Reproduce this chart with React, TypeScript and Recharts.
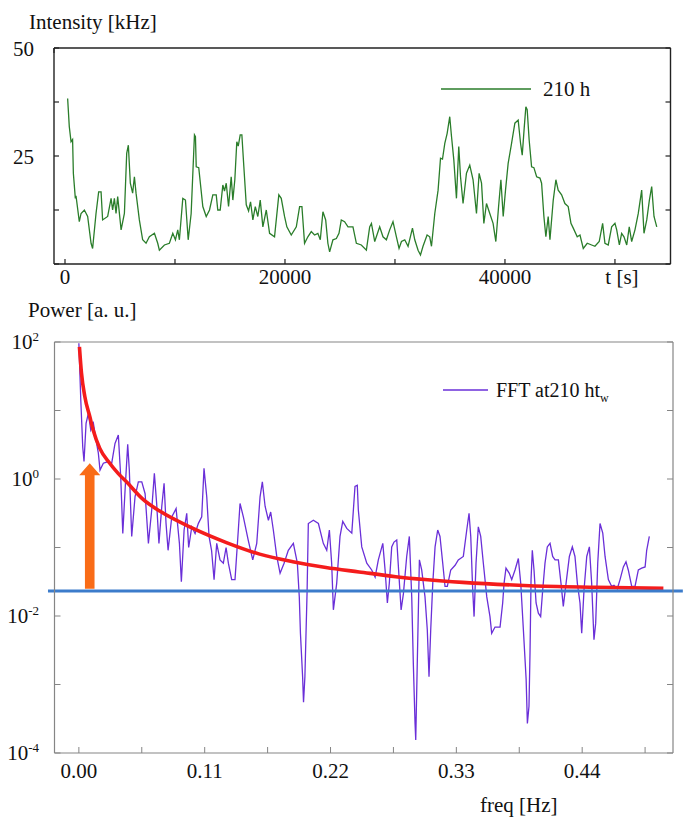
import React from 'react';
import { LineChart, Line, XAxis, YAxis, Legend, ReferenceLine } from 'recharts';

const FONT = "'Liberation Serif', 'Times New Roman', serif";

// ---------- Top chart: intensity trace ----------
const intensityTime = [
  240, 390, 550, 690, 760, 940, 1000, 1300, 1460, 1760, 2060, 2370, 2510, 2820, 3060, 3280, 3420, 3880, 4190, 4330,
  4490, 4640, 4790, 5100, 5400, 5610, 5760, 5940, 6150, 6310, 6460, 6760, 7060, 7370, 7670, 8130, 8430, 8580, 9040, 9490,
  9800, 10040, 10250, 10400, 10710, 10950, 11200, 11470, 11770, 11860, 11930, 12160, 12530, 12840, 13140, 13440, 13750, 13890, 14110, 14350,
  14500, 14660, 14870, 15110, 15260, 15440, 15620, 15750, 15930, 16080, 16260, 16480, 16690, 16870, 17080, 17300, 17530, 17750, 17990, 18300,
  18600, 19050, 19440, 19660, 19960, 20170, 20570, 21030, 21330, 21540, 21780, 22080, 22390, 22690, 22990, 23210, 23450, 23700, 23900, 24060,
  24360, 24670, 24910, 25120, 25420, 25730, 26180, 26490, 26940, 27400, 27700, 27860, 28160, 28610, 28910, 29220, 29520, 29820, 30130, 30370,
  30590, 30890, 31190, 31590, 31800, 32100, 32320, 32550, 32920, 33160, 33320, 33620, 33920, 34140, 34320, 34530, 34740, 34980, 35140, 35350,
  35590, 35800, 35960, 36190, 36500, 36800, 37100, 37410, 37650, 37870, 38080, 38320, 38620, 38920, 39170, 39420, 39630, 39840, 40050, 40290,
  40600, 40900, 41200, 41420, 41570, 41750, 41900, 42020, 42200, 42420, 42630, 42880, 43180, 43330, 43540, 43720, 43930, 44090, 44390, 44630,
  44840, 45150, 45450, 45750, 46000, 46210, 46570, 46820, 47120, 47480, 47880, 48180, 48570, 48880, 49090, 49390, 49700, 50000, 50160, 50400,
  50610, 50820, 51070, 51300, 51520, 51820, 52120, 52430, 52640, 52890, 53130, 53340, 53550, 53800,
];
const intensityKHz = [
  38.3, 31.8, 28.3, 28.8, 21, 15.2, 15.8, 9.8, 11.7, 12.5, 11, 4.8, 3.6, 11.7, 16.7, 16.7, 10.2, 11, 15.2, 12.5,
  15.2, 11.7, 15.6, 7.9, 11.7, 25.6, 27.5, 18.7, 16.4, 20.2, 16.4, 10.2, 5.6, 4.8, 6.3, 7.1, 4.8, 3.2, 4.4, 4.8,
  7.1, 5.6, 7.9, 5.6, 15.2, 14.8, 5.6, 11.7, 29.9, 29.5, 22.5, 22.3, 13.3, 11, 12.5, 16, 16, 12.5, 12.5, 18.3,
  16.9, 18.7, 13.3, 20.2, 14.8, 19.5, 28.3, 27.3, 29.9, 29.9, 22.5, 13.7, 12.3, 14.4, 10.2, 13.3, 11, 14.8, 8.6, 12.5,
  7.1, 6.3, 16, 15.2, 11, 8.6, 6.7, 8.6, 13.3, 13.3, 4.8, 6.3, 7.5, 6.7, 7.1, 5.6, 12.1, 10.2, 4.8, 2.8,
  5.6, 5.9, 7.1, 10.2, 9.8, 8.6, 8.6, 4.8, 4.4, 3.2, 8.6, 9.4, 5.2, 8.6, 6.3, 5.6, 7.9, 9.8, 6.3, 3.6,
  5.2, 5.6, 4.1, 8.3, 5.6, 3.2, 2.1, 4.1, 6.7, 6.3, 4.1, 11.7, 17.1, 24.5, 24.3, 27.9, 30.2, 34.1, 29.5, 24.1,
  15.2, 27.2, 20.2, 14, 21, 22.9, 19.5, 11.7, 21, 18.7, 9.4, 14, 11.7, 9.4, 5.2, 13.3, 19.5, 11, 17.1, 23.3,
  27.9, 32.6, 33.3, 27.9, 25.2, 31.5, 36.4, 35.7, 28.7, 22.5, 22.3, 20.2, 19.9, 18.7, 11, 6.3, 11, 5.6, 14.8, 19.5,
  17.1, 16, 14, 13.3, 9.4, 8.3, 6.3, 6.7, 3.6, 4.8, 4.4, 4.1, 5.2, 9.4, 4.8, 4.4, 8.6, 9.4, 7.9, 4.4,
  7.1, 6.3, 4.4, 8.6, 5.2, 7.9, 11.7, 17.1, 7.1, 10.2, 14.8, 17.9, 11, 8.6,
];
const timeTicks = [0, 10000, 20000, 30000, 40000, 50000];
const timeTickLabels = ['0', '', '20000', '', '40000', 't [s]'];
const intensityTicks = [0, 12.5, 25, 37.5, 50];
const intensityTickLabels = ['', '', '25', '', '50'];

// ---------- Bottom chart: FFT ----------
const fftFreq = [
  0.0, 0.0017, 0.0034, 0.0045, 0.0063, 0.0083, 0.0104, 0.0127, 0.015, 0.017, 0.0185, 0.0214, 0.0258, 0.0287, 0.0316, 0.0345, 0.0366, 0.0384, 0.0404, 0.0427,
  0.0441, 0.0462, 0.0491, 0.052, 0.055, 0.0579, 0.0608, 0.0637, 0.066, 0.068, 0.07, 0.0725, 0.0745, 0.0762, 0.078, 0.0812, 0.085, 0.0879, 0.0896, 0.092,
  0.0943, 0.096, 0.0987, 0.1016, 0.1045, 0.1074, 0.1094, 0.1118, 0.1138, 0.116, 0.1182, 0.1205, 0.1234, 0.1263, 0.1287, 0.1307, 0.1336, 0.1365, 0.1394, 0.1409,
  0.1438, 0.148, 0.152, 0.1555, 0.1584, 0.1604, 0.1628, 0.1657, 0.1677, 0.17, 0.173, 0.1759, 0.1794, 0.1831, 0.1875, 0.191, 0.1927, 0.1937, 0.1956, 0.1964,
  0.1976, 0.1995, 0.2006, 0.205, 0.2094, 0.2137, 0.2167, 0.219, 0.221, 0.2225, 0.2254, 0.2283, 0.2307, 0.2342, 0.2386, 0.2414, 0.2434, 0.2443, 0.2473, 0.2517,
  0.256, 0.259, 0.2618, 0.2657, 0.2677, 0.2697, 0.2714, 0.2735, 0.2755, 0.2779, 0.2799, 0.2817, 0.2837, 0.2866, 0.2889, 0.291, 0.2924, 0.2939, 0.2945, 0.2959,
  0.2977, 0.2997, 0.3026, 0.3046, 0.3061, 0.3076, 0.3094, 0.3114, 0.3137, 0.3157, 0.3181, 0.3201, 0.3221, 0.3251, 0.3289, 0.3317, 0.3361, 0.3391, 0.3411, 0.3426,
  0.3443, 0.3455, 0.3472, 0.3492, 0.3513, 0.3536, 0.3566, 0.3594, 0.3609, 0.3638, 0.3682, 0.3705, 0.3717, 0.3734, 0.3763, 0.3784, 0.3813, 0.3842, 0.3863, 0.3886,
  0.391, 0.3921, 0.3935, 0.3944, 0.3953, 0.3964, 0.3979, 0.3997, 0.4017, 0.4037, 0.4055, 0.4075, 0.4095, 0.4119, 0.4142, 0.4163, 0.4192, 0.4215, 0.4235, 0.4259,
  0.4288, 0.4314, 0.4337, 0.4358, 0.4381, 0.4396, 0.4416, 0.444, 0.4463, 0.4483, 0.4503, 0.4518, 0.4536, 0.4556, 0.458, 0.46, 0.4629, 0.4658, 0.4678, 0.4707,
  0.4731, 0.476, 0.4783, 0.4803, 0.4833, 0.4862, 0.4891, 0.492, 0.495, 0.4964, 0.4987,
];
const fftPower = [
  96, 14, 2.9, 1.8, 6.5, 9.1, 5.2, 6.5, 3.7, 2.4, 1.35, 1.7, 1.8, 1.7, 3.3, 4.4, 1.08, 0.16, 0.69, 3.2,
  1.35, 0.145, 0.55, 0.91, 0.91, 0.61, 0.115, 0.355, 1.21, 0.44, 0.115, 0.4, 0.865, 0.225, 0.091, 0.28, 0.37, 0.115, 0.0316, 0.18,
  0.316, 0.1, 0.2, 0.16, 0.225, 0.28, 1.43, 0.55, 0.145, 0.091, 0.034, 0.115, 0.066, 0.059, 0.1, 0.059, 0.034, 0.034, 0.18, 0.44,
  0.28, 0.129, 0.066, 0.115, 0.55, 0.91, 0.4, 0.25, 0.33, 0.18, 0.074, 0.042, 0.059, 0.091, 0.115, 0.059, 0.019, 0.0056, 0.0013, 0.00055,
  0.0013, 0.022, 0.224, 0.25, 0.224, 0.115, 0.091, 0.18, 0.059, 0.0123, 0.03, 0.145, 0.24, 0.19, 0.162, 0.78, 0.81, 0.355, 0.102, 0.059,
  0.047, 0.037, 0.066, 0.115, 0.047, 0.0155, 0.03, 0.102, 0.12, 0.129, 0.037, 0.0123, 0.021, 0.074, 0.145, 0.019, 0.002, 0.00027, 0.000155, 0.0023,
  0.066, 0.047, 0.019, 0.0063, 0.0013, 0.0063, 0.03, 0.102, 0.18, 0.145, 0.059, 0.027, 0.027, 0.047, 0.055, 0.066, 0.074, 0.18, 0.316, 0.145,
  0.024, 0.0098, 0.059, 0.2, 0.145, 0.059, 0.019, 0.0098, 0.0056, 0.0069, 0.0069, 0.0155, 0.03, 0.05, 0.042, 0.034, 0.047, 0.069, 0.03, 0.0063,
  0.0012, 0.00027, 0.00048, 0.0029, 0.034, 0.091, 0.047, 0.0155, 0.011, 0.0098, 0.024, 0.059, 0.102, 0.115, 0.074, 0.066, 0.066, 0.03, 0.0138, 0.03,
  0.074, 0.102, 0.074, 0.03, 0.0155, 0.0056, 0.024, 0.074, 0.102, 0.03, 0.0045, 0.0078, 0.059, 0.224, 0.162, 0.074, 0.034, 0.027, 0.028, 0.025,
  0.034, 0.052, 0.062, 0.047, 0.027, 0.027, 0.047, 0.05, 0.052, 0.091, 0.145,
];
const fitFreq = [0.0005, 0.0023, 0.0052, 0.0096, 0.0125, 0.0183, 0.027, 0.0343, 0.0416, 0.0564, 0.0707, 0.0998, 0.129, 0.158, 0.187, 0.216, 0.245, 0.277, 0.3355, 0.394, 0.452, 0.511];
const fitPower = [85, 35, 16, 8.1, 5.2, 2.8, 1.7, 1.21, 0.91, 0.5, 0.34, 0.19, 0.118, 0.08, 0.062, 0.051, 0.044, 0.0375, 0.031, 0.0277, 0.0263, 0.0253];
const noiseFloor = 0.0232;
const arrowFreq = 0.0095;
const arrowFrom = 0.025;
const arrowTo = 1.7;
const freqTicks = [0, 0.055, 0.11, 0.165, 0.22, 0.275, 0.33, 0.385, 0.44, 0.495];
const freqTickLabels = ['0.00', '', '0.11', '', '0.22', '', '0.33', '', '0.44', ''];
const powerTicks = [0.0001, 0.001, 0.01, 0.1, 1, 10, 100];
const powerTickExponents = ['-4', '', '-2', '', '0', '', '2'];

const intensityData = intensityTime.map((t, i) => ({ t, v: intensityKHz[i] }));
const fftData = fftFreq.map((f, i) => ({ f, p: fftPower[i] }));
const fitData = fitFreq.map((f, i) => ({ f, p: fitPower[i] }));

const TEXT = '#111';
const TOP_FRAME = '#222';
const BOT_FRAME = '#858585';

const Empty = () => <g />;

const TimeTick = (props: any) => {
  const { x, y, payload } = props;
  const i = timeTicks.indexOf(payload.value);
  const label = timeTickLabels[i];
  if (!label) return <g />;
  const dx = label === 't [s]' ? 7 : 0;
  return (
    <text x={x + dx} y={y} dy="0.71em" textAnchor="middle" fontFamily={FONT} fontSize={21} fill={TEXT}>
      {label}
    </text>
  );
};

const IntensityTick = (props: any) => {
  const { x, y, payload } = props;
  const i = intensityTicks.indexOf(payload.value);
  const label = intensityTickLabels[i];
  if (!label) return <g />;
  return (
    <text x={x} y={y} dy="0.36em" textAnchor="end" fontFamily={FONT} fontSize={21} fill={TEXT}>
      {label}
    </text>
  );
};

const FreqTick = (props: any) => {
  const { x, y, payload } = props;
  const i = freqTicks.indexOf(payload.value);
  const label = freqTickLabels[i];
  if (!label) return <g />;
  return (
    <text x={x} y={y} dy="0.71em" textAnchor="middle" fontFamily={FONT} fontSize={21} fill={TEXT}>
      {label}
    </text>
  );
};

const PowerTick = (props: any) => {
  const { x, y, payload } = props;
  const i = powerTicks.indexOf(payload.value);
  const exp = powerTickExponents[i];
  if (!exp) return <g />;
  return (
    <text x={x} y={y} dy={7} textAnchor="end" fontFamily={FONT} fontSize={21} fill={TEXT}>
      10
      <tspan dy={-8} fontSize={13}>
        {exp}
      </tspan>
    </text>
  );
};

const AxisTitle = (props: any) => {
  const vb = props.viewBox || { x: props.fx || 0, y: props.fy || 0 };
  return (
    <text x={vb.x + props.ox} y={vb.y + props.oy} textAnchor="start" fontFamily={FONT} fontSize={21} fill={TEXT}>
      {props.text}
    </text>
  );
};

const ArrowShape = (props: any) => {
  const { x1, y1, y2 } = props;
  if (x1 == null || y1 == null || y2 == null) return <g />;
  const top = Math.min(y1, y2);
  const bottom = Math.max(y1, y2);
  const sw = 4.8;
  const hw = 10.5;
  const hh = 12;
  const pts = [
    [x1 - sw, bottom],
    [x1 - sw, top + hh],
    [x1 - hw, top + hh],
    [x1, top],
    [x1 + hw, top + hh],
    [x1 + sw, top + hh],
    [x1 + sw, bottom],
  ]
    .map((p) => p.join(','))
    .join(' ');
  return <polygon points={pts} fill="#f96c17" />;
};

const TopLegend = () => (
  <svg width={170} height={26} style={{ display: 'block' }}>
    <line x1={1} y1={13} x2={91} y2={13} stroke="#2a7d2a" strokeWidth={1.6} />
    <text x={103} y={13} dy="0.35em" fontFamily={FONT} fontSize={21} fill={TEXT}>
      210 h
    </text>
  </svg>
);

const BottomLegend = () => (
  <svg width={200} height={30} style={{ display: 'block' }}>
    <line x1={1} y1={13} x2={46} y2={13} stroke="#6a2fd8" strokeWidth={1.6} />
    <text x={54} y={13} dy="0.35em" fontFamily={FONT} fontSize={20} fill={TEXT}>
      FFT at210 ht
      <tspan dy={5} fontSize={12}>
        w
      </tspan>
    </text>
  </svg>
);

export default function App() {
  return (
    <div style={{ position: 'absolute', left: 0, top: 0, width: 683, height: 820, background: '#fff' }}>
      <div style={{ position: 'absolute', left: 0, top: 0 }}>
        <LineChart width={683} height={300} data={intensityData} margin={{ top: 47, right: 11.5, bottom: 0, left: 14 }}>
          <XAxis
            dataKey="t"
            type="number"
            domain={[-1000, 55050]}
            allowDataOverflow
            ticks={timeTicks}
            interval={0}
            height={36}
            tickSize={-5}
            tickMargin={10}
            tick={<TimeTick />}
            axisLine={{ stroke: TOP_FRAME, strokeWidth: 1.4 }}
            tickLine={{ stroke: TOP_FRAME, strokeWidth: 1.2 }}
          />
          <XAxis
            xAxisId="top"
            orientation="top"
            type="number"
            domain={[-1000, 55050]}
            allowDataOverflow
            ticks={timeTicks}
            interval={0}
            height={1}
            tickSize={-5}
            tick={<Empty />}
            axisLine={{ stroke: TOP_FRAME, strokeWidth: 1.4 }}
            tickLine={{ stroke: TOP_FRAME, strokeWidth: 1.2 }}
          />
          <YAxis
            type="number"
            domain={[0, 50]}
            allowDataOverflow
            ticks={intensityTicks}
            interval={0}
            width={40}
            tickSize={-5}
            tickMargin={25}
            tick={<IntensityTick />}
            axisLine={{ stroke: TOP_FRAME, strokeWidth: 1.4 }}
            tickLine={{ stroke: TOP_FRAME, strokeWidth: 1.2 }}
            label={<AxisTitle text="Intensity [kHz]" ox={15} oy={-19} fx={14} fy={48} />}
          />
          <YAxis
            yAxisId="right"
            orientation="right"
            type="number"
            domain={[0, 50]}
            allowDataOverflow
            ticks={intensityTicks}
            interval={0}
            width={1}
            tickSize={-5}
            tick={<Empty />}
            axisLine={{ stroke: TOP_FRAME, strokeWidth: 1.4 }}
            tickLine={{ stroke: TOP_FRAME, strokeWidth: 1.2 }}
          />
          <Line
            type="linear"
            dataKey="v"
            stroke="#2a7d2a"
            strokeWidth={1.3}
            dot={false}
            activeDot={false}
            isAnimationActive={false}
          />
          <Legend
            layout="horizontal"
            verticalAlign="middle"
            align="center"
            wrapperStyle={{ left: 440, top: 76, width: 170, height: 26, margin: 0, padding: 0 }}
            content={() => <TopLegend />}
          />
        </LineChart>
      </div>
      <div style={{ position: 'absolute', left: 0, top: 290 }}>
        <LineChart width={683} height={530} margin={{ top: 51, right: 9, bottom: 0, left: 14.5 }}>
          <XAxis
            dataKey="f"
            type="number"
            domain={[-0.0213, 0.5194]}
            allowDataOverflow
            ticks={freqTicks}
            interval={0}
            height={67}
            tickSize={-6}
            tickMargin={16}
            tick={<FreqTick />}
            axisLine={{ stroke: BOT_FRAME, strokeWidth: 1.2 }}
            tickLine={{ stroke: BOT_FRAME, strokeWidth: 1 }}
            label={<AxisTitle text="freq [Hz]" ox={425.5} oy={59} fx={54.5} fy={463} />}
          />
          <XAxis
            xAxisId="top"
            orientation="top"
            type="number"
            domain={[-0.0213, 0.5194]}
            allowDataOverflow
            ticks={freqTicks}
            interval={0}
            height={1}
            tickSize={-6}
            tick={<Empty />}
            axisLine={{ stroke: BOT_FRAME, strokeWidth: 1.2 }}
            tickLine={{ stroke: BOT_FRAME, strokeWidth: 1 }}
          />
          <YAxis
            type="number"
            scale="log"
            domain={[0.0001, 100]}
            allowDataOverflow
            ticks={powerTicks}
            interval={0}
            width={40}
            tickSize={-6}
            tickMargin={21.5}
            tick={<PowerTick />}
            axisLine={{ stroke: BOT_FRAME, strokeWidth: 1.2 }}
            tickLine={{ stroke: BOT_FRAME, strokeWidth: 1 }}
            label={<AxisTitle text="Power [a. u.]" ox={13.5} oy={-25.3} fx={14.5} fy={52} />}
          />
          <YAxis
            yAxisId="right"
            orientation="right"
            type="number"
            scale="log"
            domain={[0.0001, 100]}
            allowDataOverflow
            ticks={powerTicks}
            interval={0}
            width={1}
            tickSize={-6}
            tick={<Empty />}
            axisLine={{ stroke: BOT_FRAME, strokeWidth: 1.2 }}
            tickLine={{ stroke: BOT_FRAME, strokeWidth: 1 }}
          />
          <Line
            data={fftData}
            type="linear"
            dataKey="p"
            stroke="#6a2fd8"
            strokeWidth={1.3}
            dot={false}
            activeDot={false}
            isAnimationActive={false}
          />
          <Line
            data={fitData}
            type="monotone"
            dataKey="p"
            stroke="#f41c1c"
            strokeWidth={3.6}
            dot={false}
            activeDot={false}
            isAnimationActive={false}
          />
          <ReferenceLine
            segment={[
              { x: -0.027, y: noiseFloor },
              { x: 0.528, y: noiseFloor },
            ]}
            stroke="#3c7ccb"
            strokeWidth={3}
            ifOverflow="visible"
          />
          <ReferenceLine
            segment={[
              { x: arrowFreq, y: arrowFrom },
              { x: arrowFreq, y: arrowTo },
            ]}
            ifOverflow="visible"
            shape={<ArrowShape />}
          />
          <Legend
            layout="horizontal"
            verticalAlign="middle"
            align="center"
            wrapperStyle={{ left: 442, top: 87, width: 200, height: 30, margin: 0, padding: 0 }}
            content={() => <BottomLegend />}
          />
        </LineChart>
      </div>
    </div>
  );
}
